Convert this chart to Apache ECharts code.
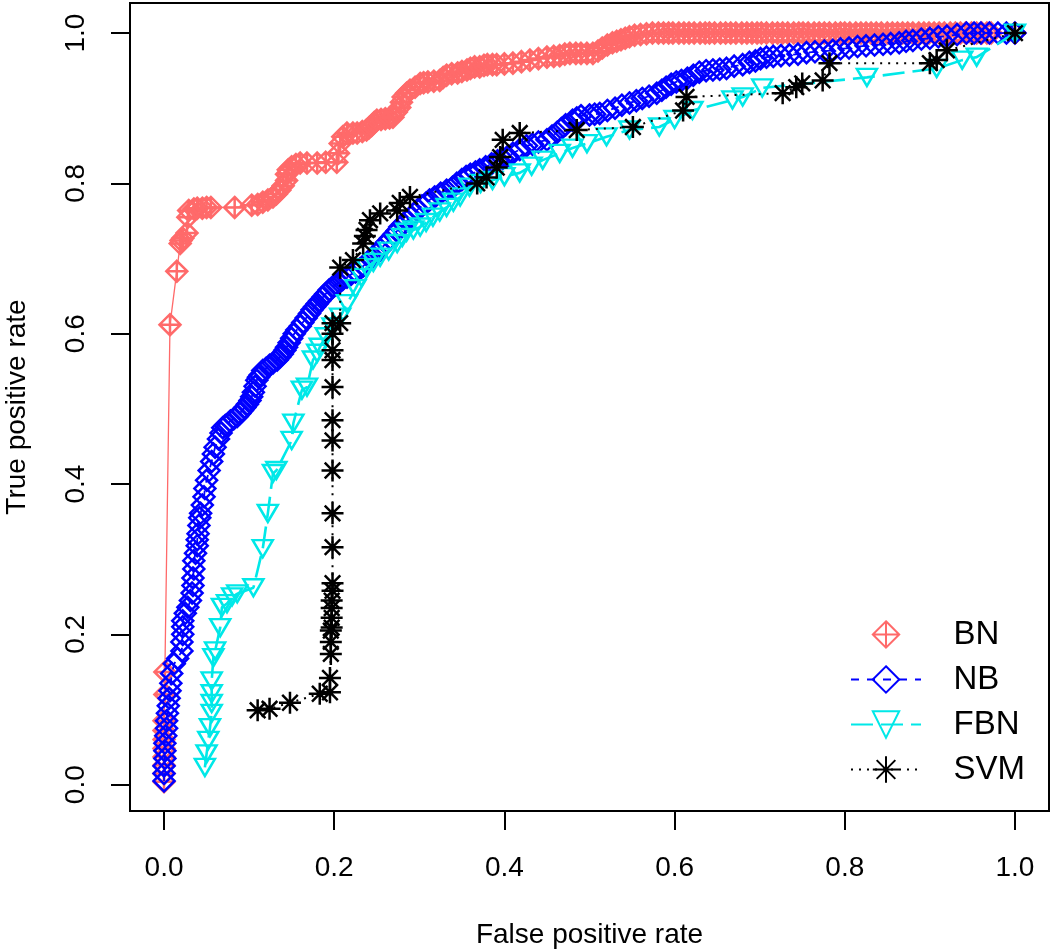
<!DOCTYPE html>
<html>
<head>
<meta charset="utf-8">
<script src="https://cdn.jsdelivr.net/npm/echarts@6.0.0/dist/echarts.min.js"></script>
<style>
html,body{margin:0;padding:0;background:#fff;}
#chart{width:1050px;height:952px;}
</style>
</head>
<body>
<div id="chart"></div>
<script>
// ---- data (false positive rate, true positive rate) ----
const seriesNames = ['BN', 'NB', 'FBN', 'SVM'];
const tickValues = [0, 0.2, 0.4, 0.6, 0.8, 1.0];
const tickLabels = ['0.0', '0.2', '0.4', '0.6', '0.8', '1.0'];

const bnPoints = [
[0,0.004],[0,0.015],[0,0.026],[0,0.037],[0,0.048],[0,0.06],[0,0.072],[0,0.085],[0.001,0.12],[0.001,0.15],
[0.007,0.612],[0.015,0.683],[0.019,0.72],[0.02,0.724],[0.022,0.727],[0.027,0.734],[0.028,0.755],[0.029,0.764],
[0.035,0.766],[0.039,0.767],[0.045,0.767],[0.05,0.768],[0.055,0.768],[0.083,0.768],[0.103,0.771],[0.11,0.772],
[0.116,0.775],[0.122,0.778],[0.128,0.782],[0.132,0.786],[0.136,0.791],[0.14,0.797],[0.144,0.804],[0.144,0.812],
[0.146,0.818],[0.15,0.822],[0.155,0.825],[0.16,0.827],[0.168,0.827],[0.18,0.827],[0.19,0.828],[0.203,0.828],
[0.205,0.84],[0.207,0.853],[0.21,0.862],[0.215,0.867],[0.222,0.867],[0.227,0.867],[0.233,0.869],[0.238,0.871],
[0.241,0.874],[0.244,0.877],[0.247,0.881],[0.25,0.884],[0.255,0.885],[0.26,0.886],[0.265,0.887],[0.269,0.888],
[0.273,0.895],[0.277,0.901],[0.279,0.908],[0.281,0.915],[0.285,0.92],[0.289,0.924],[0.295,0.928],[0.301,0.933],
[0.305,0.934],[0.31,0.935],[0.317,0.936],[0.324,0.937],[0.328,0.941],[0.332,0.944],[0.338,0.946],[0.345,0.947],
[0.35,0.949],[0.356,0.951],[0.36,0.953],[0.365,0.955],[0.371,0.955],[0.376,0.957],[0.38,0.958],[0.386,0.958],
[0.391,0.958],[0.4,0.959],[0.41,0.96],[0.42,0.962],[0.43,0.964],[0.44,0.966],[0.45,0.968],[0.458,0.969],
[0.465,0.97],[0.471,0.972],[0.477,0.973],[0.484,0.973],[0.49,0.973],[0.497,0.973],[0.504,0.973],[0.51,0.976],
[0.515,0.98],[0.521,0.984],[0.527,0.987],[0.532,0.989],[0.537,0.991],[0.542,0.993],[0.547,0.995],[0.553,0.997],
[0.56,0.998],[0.567,0.999],[0.574,1],[0.581,1],[0.587,1],[0.593,1],[0.598,1],[0.605,1],[0.611,1],[0.617,1],
[0.623,1],[0.63,1],[0.636,1],[0.641,1],[0.647,1],[0.654,1],[0.66,1],[0.666,1],[0.672,1],[0.679,1],[0.685,1],
[0.691,1],[0.697,1],[0.702,1],[0.708,1],[0.715,1],[0.721,1],[0.727,1],[0.733,1],[0.74,1],[0.746,1],[0.751,1],
[0.757,1],[0.764,1],[0.77,1],[0.776,1],[0.782,1],[0.789,1],[0.795,1],[0.8,1],[0.806,1],[0.813,1],[0.819,1],
[0.825,1],[0.831,1],[0.837,1],[0.843,1],[0.85,1],[0.856,1],[0.862,1],[0.868,1],[0.874,1],[0.88,1],[0.887,1],
[0.893,1],[0.899,1],[0.905,1],[0.911,1],[0.917,1],[0.924,1],[0.93,1],[0.936,1],[0.942,1],[0.949,1],[0.955,1],
[0.961,1],[0.967,1],[0.972,1],[1,1]
];

const nbPoints = [
[0,0.005],[0,0.015],[0,0.025],[0.001,0.035],[0.001,0.045],[0.001,0.055],[0.002,0.065],[0.003,0.075],[0.003,0.085],
[0.004,0.095],[0.005,0.105],[0.006,0.115],[0.007,0.125],[0.008,0.135],[0.009,0.148],[0.012,0.161],[0.016,0.168],
[0.021,0.178],[0.021,0.19],[0.022,0.2],[0.022,0.21],[0.022,0.218],[0.025,0.228],[0.028,0.236],[0.031,0.245],
[0.033,0.255],[0.034,0.265],[0.034,0.275],[0.035,0.287],[0.035,0.298],[0.037,0.308],[0.039,0.318],[0.039,0.326],
[0.04,0.334],[0.041,0.345],[0.042,0.355],[0.043,0.361],[0.045,0.372],[0.047,0.383],[0.048,0.394],[0.05,0.405],
[0.053,0.418],[0.056,0.43],[0.058,0.44],[0.06,0.449],[0.064,0.46],[0.067,0.468],[0.069,0.475],[0.072,0.478],
[0.075,0.48],[0.078,0.484],[0.082,0.487],[0.086,0.49],[0.089,0.494],[0.092,0.498],[0.095,0.502],[0.098,0.506],
[0.101,0.511],[0.103,0.516],[0.105,0.522],[0.107,0.53],[0.109,0.538],[0.111,0.542],[0.113,0.545],[0.116,0.551],
[0.12,0.554],[0.124,0.558],[0.128,0.561],[0.133,0.565],[0.136,0.569],[0.139,0.573],[0.142,0.578],[0.144,0.582],
[0.147,0.588],[0.15,0.594],[0.153,0.6],[0.156,0.605],[0.16,0.61],[0.163,0.615],[0.167,0.621],[0.171,0.627],
[0.174,0.632],[0.177,0.636],[0.18,0.64],[0.183,0.644],[0.187,0.649],[0.19,0.653],[0.194,0.658],[0.198,0.662],
[0.202,0.665],[0.206,0.668],[0.21,0.672],[0.215,0.675],[0.22,0.679],[0.225,0.682],[0.23,0.686],[0.234,0.69],
[0.239,0.695],[0.244,0.7],[0.249,0.706],[0.254,0.712],[0.258,0.717],[0.262,0.722],[0.266,0.727],[0.27,0.732],
[0.274,0.737],[0.277,0.742],[0.281,0.746],[0.285,0.75],[0.29,0.755],[0.294,0.76],[0.298,0.765],[0.303,0.77],
[0.308,0.774],[0.312,0.778],[0.318,0.782],[0.325,0.787],[0.332,0.791],[0.339,0.795],[0.344,0.8],[0.35,0.805],
[0.355,0.809],[0.36,0.812],[0.366,0.815],[0.371,0.818],[0.378,0.822],[0.385,0.826],[0.392,0.83],[0.398,0.833],
[0.404,0.836],[0.41,0.84],[0.418,0.845],[0.426,0.85],[0.433,0.852],[0.44,0.855],[0.45,0.858],[0.456,0.863],
[0.462,0.868],[0.467,0.873],[0.472,0.878],[0.48,0.884],[0.485,0.887],[0.49,0.89],[0.5,0.891],[0.506,0.892],
[0.512,0.893],[0.521,0.897],[0.53,0.9],[0.538,0.904],[0.547,0.907],[0.555,0.91],[0.562,0.913],[0.57,0.916],
[0.579,0.92],[0.585,0.924],[0.59,0.928],[0.596,0.932],[0.602,0.935],[0.608,0.937],[0.615,0.94],[0.622,0.944],
[0.629,0.948],[0.637,0.95],[0.645,0.951],[0.653,0.952],[0.661,0.953],[0.67,0.956],[0.68,0.958],[0.688,0.961],
[0.695,0.963],[0.701,0.966],[0.708,0.968],[0.716,0.969],[0.725,0.97],[0.735,0.971],[0.745,0.972],[0.755,0.974],
[0.765,0.975],[0.776,0.976],[0.786,0.977],[0.795,0.979],[0.805,0.98],[0.815,0.982],[0.825,0.983],[0.835,0.984],
[0.845,0.985],[0.854,0.986],[0.864,0.987],[0.872,0.989],[0.88,0.99],[0.89,0.992],[0.9,0.993],[0.91,0.995],
[0.92,0.996],[0.932,0.998],[0.943,1],[0.952,1],[0.96,1],[0.97,1],[0.98,1],[0.99,1],[1,1]
];

const fbnPoints = [
[0.048,0.023],[0.05,0.041],[0.052,0.059],[0.054,0.076],[0.056,0.095],[0.056,0.108],[0.056,0.121],[0.056,0.138],
[0.058,0.169],[0.06,0.178],[0.066,0.209],[0.068,0.236],[0.074,0.241],[0.08,0.25],[0.086,0.254],[0.105,0.262],
[0.116,0.314],[0.122,0.361],[0.128,0.414],[0.132,0.418],[0.15,0.458],[0.152,0.481],[0.162,0.525],[0.168,0.529],
[0.175,0.565],[0.18,0.574],[0.183,0.582],[0.19,0.596],[0.198,0.609],[0.207,0.622],[0.215,0.64],[0.225,0.66],
[0.232,0.675],[0.238,0.688],[0.246,0.695],[0.254,0.702],[0.264,0.71],[0.274,0.72],[0.28,0.728],[0.285,0.735],
[0.293,0.738],[0.301,0.742],[0.308,0.748],[0.316,0.755],[0.324,0.762],[0.332,0.768],[0.34,0.775],[0.348,0.782],
[0.359,0.795],[0.372,0.8],[0.386,0.804],[0.4,0.809],[0.418,0.814],[0.432,0.823],[0.445,0.831],[0.465,0.84],
[0.48,0.847],[0.497,0.853],[0.52,0.862],[0.547,0.871],[0.582,0.875],[0.6,0.885],[0.621,0.897],[0.668,0.911],
[0.68,0.915],[0.703,0.927],[0.826,0.941],[0.908,0.953],[0.938,0.964],[0.955,0.968],[1,1]
];

const svmPoints = [
[0.11,0.099],[0.124,0.101],[0.148,0.109],[0.183,0.121],[0.195,0.123],[0.195,0.142],[0.196,0.174],[0.196,0.19],
[0.196,0.205],[0.197,0.209],[0.197,0.222],[0.197,0.235],[0.197,0.245],[0.198,0.258],[0.198,0.268],[0.198,0.316],
[0.198,0.361],[0.198,0.418],[0.198,0.458],[0.198,0.485],[0.198,0.529],[0.198,0.565],[0.198,0.578],[0.198,0.6],
[0.198,0.614],[0.207,0.614],[0.207,0.688],[0.222,0.698],[0.234,0.72],[0.236,0.73],[0.238,0.738],[0.242,0.751],
[0.254,0.76],[0.274,0.764],[0.277,0.774],[0.289,0.782],[0.368,0.8],[0.379,0.808],[0.391,0.821],[0.395,0.835],
[0.398,0.858],[0.418,0.867],[0.485,0.871],[0.551,0.875],[0.61,0.897],[0.614,0.915],[0.727,0.92],[0.743,0.928],
[0.75,0.933],[0.774,0.937],[0.782,0.96],[0.9,0.96],[0.908,0.964],[0.92,0.977],[1,1]
];

// ---- styling ----
const FONT = "'Liberation Sans', Arial, Helvetica, sans-serif";
const colors = {BN: '#FF6A6A', NB: '#0000FF', FBN: '#00E8E8', SVM: '#000000'};
const symDiamondPlus = 'path://M0,-10L10,0L0,10L-10,0ZM0,-10L0,10M-10,0L10,0';
const symDiamond = 'path://M0,-10L10,0L0,10L-10,0Z';
const symTriDown = 'path://M-10,-8.5L10,-8.5L0,8.5Z';
const symAsterisk = 'path://M0,-10L0,10M-10,0L10,0M-7.07,-7.07L7.07,7.07M-7.07,7.07L7.07,-7.07';

function mkSeries(name, data, symbol, size, lineStyle, z) {
  return {
    name: name, type: 'line', data: data, z: z,
    symbol: symbol, symbolSize: size, showSymbol: true, showAllSymbol: true,
    itemStyle: {color: 'rgba(255,255,255,0)', borderColor: colors[name], borderWidth: 2.5},
    lineStyle: Object.assign({color: colors[name]}, lineStyle),
    emphasis: {disabled: true}, silent: true, clip: false
  };
}

function tickFmt(v) {
  let best = 0;
  for (let i = 0; i < tickValues.length; i++) {
    if (Math.abs(tickValues[i] - v) < Math.abs(tickValues[best] - v)) best = i;
  }
  return tickLabels[best];
}

const chart = echarts.init(document.getElementById('chart'), null, {renderer: 'canvas'});
chart.setOption({
  animation: false,
  backgroundColor: '#ffffff',
  grid: {left: 130, top: 3, right: 1, bottom: 141, outerBoundsMode: 'none', containLabel: false,
         show: true, borderColor: '#000', borderWidth: 2, backgroundColor: 'rgba(0,0,0,0)'},
  xAxis: {
    type: 'value', min: -0.04, max: 1.04,
    name: 'False positive rate', nameLocation: 'middle', nameGap: 110,
    nameTextStyle: {fontSize: 28, color: '#000', fontFamily: FONT},
    axisLine: {show: false, onZero: false}, splitLine: {show: false},
    axisTick: {show: true, customValues: tickValues, length: 19, lineStyle: {color: '#000', width: 2}},
    axisLabel: {customValues: tickValues, formatter: tickFmt, margin: 43, fontSize: 28, color: '#000', fontFamily: FONT}
  },
  yAxis: {
    type: 'value', min: -0.035, max: 1.04,
    name: 'True positive rate', nameLocation: 'middle', nameGap: 99,
    nameTextStyle: {fontSize: 28, color: '#000', fontFamily: FONT},
    axisLine: {show: false, onZero: false}, splitLine: {show: false},
    axisTick: {show: true, customValues: tickValues, length: 19, lineStyle: {color: '#000', width: 2}},
    axisLabel: {customValues: tickValues, formatter: tickFmt, rotate: 90, margin: 40, fontSize: 28, color: '#000', fontFamily: FONT}
  },
  legend: {
    orient: 'vertical', left: 845, top: 613, itemWidth: 70, itemHeight: 33, itemGap: 12,
    selectedMode: false, formatter: '   {name}',
    textStyle: {fontSize: 33, color: '#000', fontFamily: FONT},
    data: [{name: 'BN', lineStyle: {opacity: 0}}, {name: 'NB'}, {name: 'FBN'}, {name: 'SVM'}]
  },
  series: [
    mkSeries('BN', bnPoints, symDiamondPlus, [21, 21], {width: 1.3, type: 'solid'}, 2),
    mkSeries('NB', nbPoints, symDiamond, [21, 21], {width: 1.8, type: [8, 8]}, 3),
    mkSeries('FBN', fbnPoints, symTriDown, [20, 17], {width: 2.6, type: [22, 8]}, 4),
    mkSeries('SVM', svmPoints, symAsterisk, [22, 22], {width: 2, type: [2, 6]}, 5)
  ]
});
</script>
</body>
</html>
